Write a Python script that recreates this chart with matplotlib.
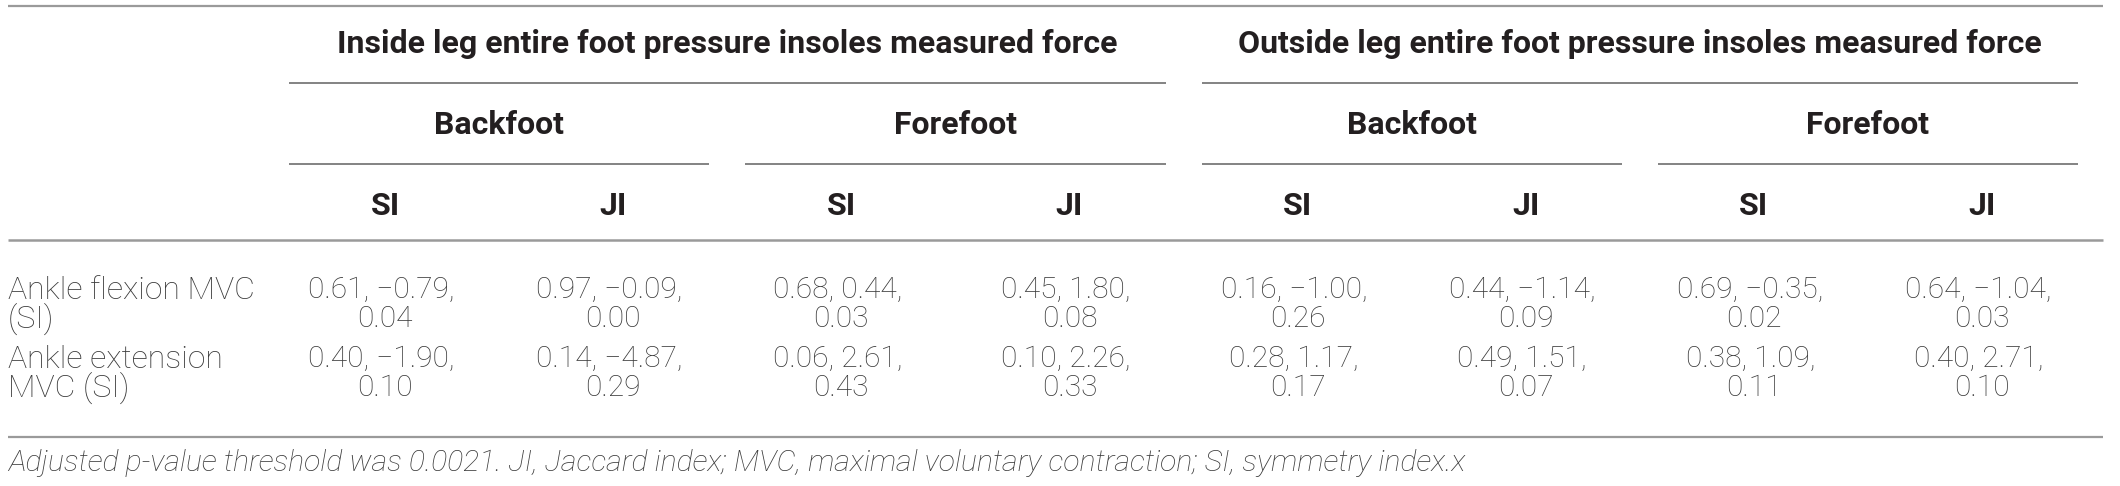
import numpy as np
import matplotlib.pyplot as plt

# table content
groups = ["Inside leg entire foot pressure insoles measured force",
          "Outside leg entire foot pressure insoles measured force"]
parts = ["Backfoot", "Forefoot"]
indices = ["SI", "JI"]
rowLabels = [["Ankle flexion MVC", "(SI)"], ["Ankle extension", "MVC (SI)"]]

# r, t, p per column (Inside BF SI, JI, FF SI, JI, Outside BF SI, JI, FF SI, JI)
flexion = [
    ["0.61", "\u22120.79", "0.04"], ["0.97", "\u22120.09", "0.00"],
    ["0.68", "0.44", "0.03"], ["0.45", "1.80", "0.08"],
    ["0.16", "\u22121.00", "0.26"], ["0.44", "\u22121.14", "0.09"],
    ["0.69", "\u22120.35", "0.02"], ["0.64", "\u22121.04", "0.03"],
]
extension = [
    ["0.40", "\u22121.90", "0.10"], ["0.14", "\u22124.87", "0.29"],
    ["0.06", "2.61", "0.43"], ["0.10", "2.26", "0.33"],
    ["0.28", "1.17", "0.17"], ["0.49", "1.51", "0.07"],
    ["0.38", "1.09", "0.11"], ["0.40", "2.71", "0.10"],
]
caption = ("Adjusted p-value threshold was 0.0021. JI, Jaccard index; MVC, "
           "maximal voluntary contraction; SI, symmetry index.x")

W, H = 2120, 486
fig = plt.figure(figsize=(W / 100, H / 100), dpi=100)
ax = fig.add_axes([0, 0, 1, 1])
ax.set_xlim(0, W)
ax.set_ylim(H, 0)
ax.axis("off")

FONT = "Roboto"
headColor = "#231f20"
textColor = "#3a3a3a"
ruleColor = "#9a9a9a"
spanColor = "#7a7a7a"

xLeft, xRight = 8, 2103
colX = np.linspace(385, 1982, 8)
colW = colX[1] - colX[0]
inset = 18

# full-width rules
for y, lw in [(6, 1.6), (240, 1.8), (437, 1.6)]:
    ax.plot([xLeft, xRight], [y, y], color=ruleColor, lw=lw, solid_capstyle="butt")

headKw = dict(ha="center", va="center", fontsize=23, fontweight="bold",
              family=FONT, color=headColor)

# level 1: groups of four columns
for g, name in enumerate(groups):
    cols = colX[g * 4:(g + 1) * 4]
    ax.text(cols.mean(), 44, name, **headKw)
    ax.plot([cols[0] - colW / 2 + inset, cols[-1] + colW / 2 - inset], [83, 83],
            color=spanColor, lw=1.3, solid_capstyle="butt")

# level 2: backfoot / forefoot
for p in range(4):
    cols = colX[p * 2:(p + 1) * 2]
    ax.text(cols.mean(), 125, parts[p % 2], **headKw)
    ax.plot([cols[0] - colW / 2 + inset, cols[-1] + colW / 2 - inset], [164, 164],
            color=spanColor, lw=1.3, solid_capstyle="butt")

# level 3: SI / JI
for c, x in enumerate(colX):
    ax.text(x, 206, indices[c % 2], **headKw)

cellKw = dict(va="center", fontweight="light", family=FONT, color=textColor)

rowY = [(290, 319), (359, 388)]
for r, values in enumerate([flexion, extension]):
    y1, y2 = rowY[r]
    ax.text(xLeft, y1, rowLabels[r][0], ha="left", fontsize=23, **cellKw)
    ax.text(xLeft, y2, rowLabels[r][1], ha="left", fontsize=23, **cellKw)
    for c, x in enumerate(colX):
        rv, tv, pv = values[c]
        ax.text(x, y1, f"{rv}, {tv}, ", ha="center", fontsize=21.5, **cellKw)
        ax.text(x, y2, pv, ha="center", fontsize=21.5, **cellKw)

ax.text(xLeft, 463, caption, ha="left", va="center", fontsize=21.8,
        fontweight="light", style="italic", family=FONT, color=textColor)

fig.savefig("out.png", dpi=100)
